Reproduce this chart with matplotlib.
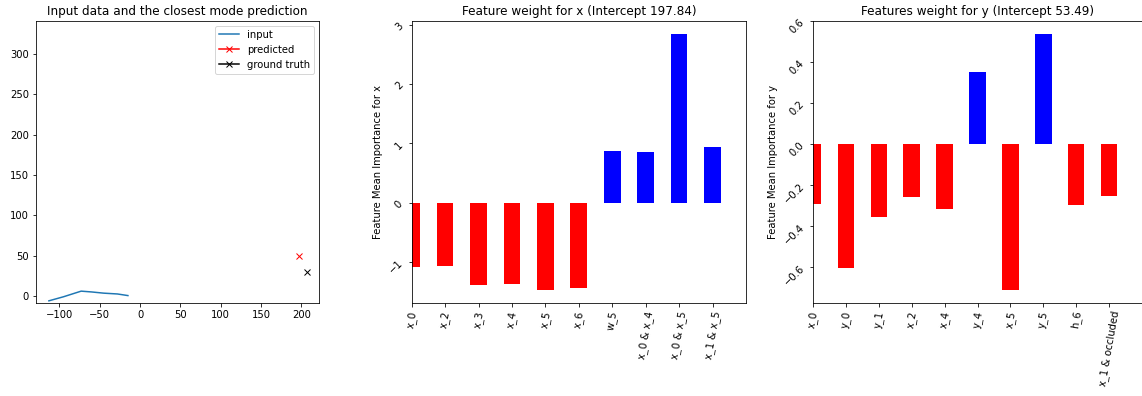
import matplotlib
matplotlib.use("Agg")
import matplotlib.pyplot as plt
import numpy as np

# ---- data ----
input_x = [-113, -95, -73, -60, -45, -28, -15]
input_y = [-6, -1, 6, 5, 3.5, 2.5, 0.5]
pred_xy = [197, 50]
gt_xy = [207, 30]

feat_x_names = ["x_0", "x_2", "x_3", "x_4", "x_5", "x_6", "w_5", "x_0 & x_4", "x_0 & x_5", "x_1 & x_5"]
feat_x_vals = [-1.084, -1.073, -1.393, -1.371, -1.478, -1.444, 0.871, 0.854, 2.854, 0.944]
intercept_x = 197.84

feat_y_names = ["x_0", "y_0", "y_1", "x_2", "x_4", "y_4", "x_5", "y_5", "h_6", "x_1 & occluded"]
feat_y_vals = [-0.289, -0.602, -0.354, -0.259, -0.315, 0.354, -0.712, 0.541, -0.298, -0.250]
intercept_y = 53.49

W, H = 1142, 396
DPI = 72
fig = plt.figure(figsize=(W / DPI, H / DPI), dpi=DPI)

def px_axes(l, t, r, b):
    return fig.add_axes([l / W, 1 - b / H, (r - l) / W, (b - t) / H])

# left panel
ax1 = px_axes(36, 20.7, 319, 303)
ax1.plot(input_x, input_y, label="input")
ax1.plot([pred_xy[0]], [pred_xy[1]], "x-", color="red", label="predicted")
ax1.plot([gt_xy[0]], [gt_xy[1]], "x-", color="black", label="ground truth")
ax1.set_xlim(-129, 222)
ax1.set_ylim(-8.7, 341.3)
ax1.set_title("Input data and the closest mode prediction")
ax1.legend(loc="upper right")

def bar_panel(ax, names, vals, title, ylabel):
    pos = np.arange(len(vals))
    colors = ["blue" if v > 0 else "red" for v in vals]
    ax.bar(pos, vals, width=0.5, color=colors)
    ax.set_xticks(pos)
    ax.set_xticklabels(names, rotation=80)
    ax.set_xlim(0, len(vals))
    ax.set_title(title)
    ax.set_ylabel(ylabel)
    for lab in ax.get_yticklabels():
        lab.set_rotation(45)

ax2 = px_axes(411.7, 20.7, 746, 303.3)
bar_panel(ax2, feat_x_names, feat_x_vals,
          "Feature weight for x (Intercept %.2f)" % intercept_x,
          "Feature Mean Importance for x")

ax3 = px_axes(813, 20.7, 1142, 303)
bar_panel(ax3, feat_y_names, feat_y_vals,
          "Features weight for y (Intercept %.2f)" % intercept_y,
          "Feature Mean Importance for y")

fig.savefig("out.png", dpi=DPI)
